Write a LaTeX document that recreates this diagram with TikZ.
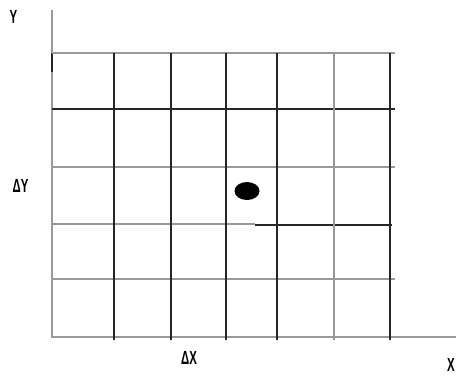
\documentclass[tikz,border=0pt]{standalone}
\usepackage{fontspec}
\setsansfont{Liberation Sans}
\begin{document}
\begin{tikzpicture}[x=1pt, y=-1pt,
    axis/.style={line width=1.2pt, black!40},
    darkline/.style={line width=1.2pt, black!85},
    faintline/.style={line width=1.2pt, black!40},
    lbl/.style={font=\sffamily\bfseries\fontsize{19}{19}\selectfont,
        inner sep=0pt, xscale=0.6, transform shape}
]
\useasboundingbox (0,0) rectangle (456,376);
% axes
\draw[axis] (52,10) -- (52,337) -- (456,337);
\draw[darkline] (52,53) -- (52,72);
% grid rows
\foreach \yy/\shade in {53/faintline, 109/darkline, 167/faintline, 279/faintline}
    \draw[\shade] (52,\yy) -- (395,\yy);
\draw[faintline] (52,224) -- (255,224);
\draw[darkline] (255,225) -- (392,225);
% grid columns
\foreach \xx/\shade in {114/darkline, 171/darkline, 226/darkline, 277/darkline,
    334/faintline, 390/darkline}
    \draw[\shade] (\xx,53) -- (\xx,340);
% point
\fill (247,191) ellipse [x radius=12.5, y radius=9];
% labels
\node[lbl] (ylabel) at (13.5,16.5) {Y};
\node[lbl] (dylabel) at (20.5,186) {ΔY};
\node[lbl] (dxlabel) at (189,358) {ΔX};
\node[lbl] (xlabel) at (451,365) {X};
\end{tikzpicture}
\end{document}
